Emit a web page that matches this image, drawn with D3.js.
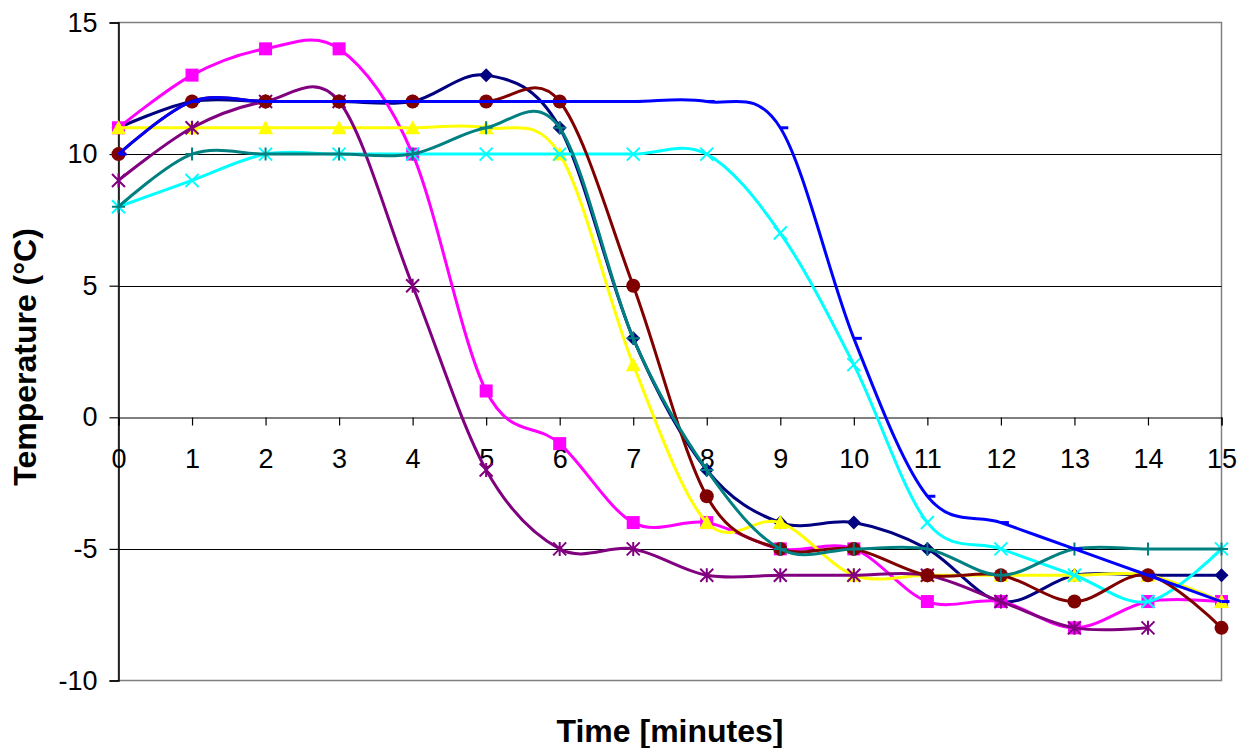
<!DOCTYPE html>
<html>
<head>
<meta charset="utf-8">
<script src="https://cdn.jsdelivr.net/npm/d3@7"></script>
<style>
  html, body { margin: 0; padding: 0; background: #fff; }
  svg { display: block; font-family: Arial, "Liberation Sans", sans-serif; }
</style>
</head>
<body>
<svg id="chart" width="1247" height="748"></svg>
<script>
// ---- data ----
const minutes = [0,1,2,3,4,5,6,7,8,9,10,11,12,13,14,15];
const yTicks = [-10,-5,0,5,10,15];
const seriesNavy    = [11,12,12,12,12,13,11,3,-2,-4,-4,-5,-7,-6,-6,-6];
const seriesMagenta = [11,13,14,14,10,1,-1,-4,-4,-5,-5,-7,-7,-8,-7,-7];
const seriesYellow  = [11,11,11,11,11,11,10,2,-4,-4,-6,-6,-6,-6,-6,-7];
const seriesCyan    = [8,9,10,10,10,10,10,10,10,7,2,-4,-5,-6,-7,-5];
const seriesPurple  = [9,11,12,12,5,-2,-5,-5,-6,-6,-6,-6,-7,-8,-8,null];
const seriesBrown   = [10,12,12,12,12,12,12,5,-3,-5,-5,-6,-6,-7,-6,-8];
const seriesTeal    = [8,10,10,10,10,11,11,3,-2,-5,-5,-5,-6,-5,-5,-5];
const seriesBlue    = [10,12,12,12,12,12,12,12,12,11,3,-3,-4,-5,-6,-7];
const xTitle = "Time [minutes]";
const yTitle = "Temperature (°C)";

const series = [
  {values: seriesNavy,    color: "#000080", marker: "diamond"},
  {values: seriesMagenta, color: "#FF00FF", marker: "square"},
  {values: seriesYellow,  color: "#FFFF00", marker: "triangle"},
  {values: seriesCyan,    color: "#00FFFF", marker: "x"},
  {values: seriesPurple,  color: "#800080", marker: "star"},
  {values: seriesBrown,   color: "#800000", marker: "circle"},
  {values: seriesTeal,    color: "#008080", marker: "plus"},
  {values: seriesBlue,    color: "#0000FF", marker: "dash"}
];

// ---- layout ----
const svg = d3.select("#chart");
const pLeft = 118.5, pRight = 1221.5, pTop = 22.5, pBottom = 680.5;
const x = d3.scaleLinear().domain([0, 15]).range([pLeft, pRight]);
const y = d3.scaleLinear().domain([-10, 15]).range([pBottom, pTop]);
const fmt = d => String(d); // plain hyphen-minus like the original

// plot border (gray)
svg.append("rect")
  .attr("x", pLeft).attr("y", pTop)
  .attr("width", pRight - pLeft).attr("height", pBottom - pTop)
  .attr("fill", "none").attr("stroke", "#808080").attr("stroke-width", 1.5);

// gridlines
svg.append("g").selectAll("line")
  .data(yTicks.filter(v => v !== -10 && v !== 15 && v !== 0))
  .join("line")
  .attr("x1", pLeft).attr("x2", pRight)
  .attr("y1", d => Math.round(y(d)) + 0.5).attr("y2", d => Math.round(y(d)) + 0.5)
  .attr("stroke", "#000").attr("stroke-width", 1);

// Y axis
const yAxis = d3.axisLeft(y).tickValues(yTicks).tickSize(9).tickPadding(12).tickFormat(fmt);
const gy = svg.append("g").attr("transform", `translate(${pLeft},0)`).call(yAxis);
gy.select(".domain").attr("stroke", "#000").attr("stroke-width", 1.5);
gy.selectAll(".tick line").attr("stroke", "#000").attr("stroke-width", 1.2);
gy.selectAll(".tick text").attr("font-size", 27).attr("fill", "#000")
  .attr("font-family", "Arial, 'Liberation Sans', sans-serif");

// X axis at zero
const xAxis = d3.axisBottom(x).tickValues(minutes).tickSize(8).tickPadding(23).tickFormat(fmt);
const gx = svg.append("g").attr("transform", `translate(0,${Math.round(y(0)) + 0.5})`).call(xAxis);
gx.select(".domain").attr("stroke", "#000").attr("stroke-width", 1.2);
gx.selectAll(".tick line").attr("stroke", "#000").attr("stroke-width", 1.2);
gx.selectAll(".tick text").attr("font-size", 27).attr("fill", "#000")
  .attr("font-family", "Arial, 'Liberation Sans', sans-serif");

// titles
svg.append("text")
  .attr("x", 670).attr("y", 742)
  .attr("text-anchor", "middle")
  .attr("font-size", 32).attr("font-weight", "bold")
  .text(xTitle);
svg.append("text")
  .attr("transform", `translate(36,357) rotate(-90)`)
  .attr("text-anchor", "middle")
  .attr("font-size", 32).attr("font-weight", "bold")
  .text(yTitle);

// ---- series ----
const line = d3.line()
  .defined(d => d.v !== null)
  .x(d => x(d.m)).y(d => y(d.v))
  .curve(d3.curveCardinal.tension(0));

function drawMarker(g, type, color, cx, cy) {
  const s = 7;
  if (type === "diamond") {
    g.append("path").attr("d", `M${cx},${cy - s}L${cx + s},${cy}L${cx},${cy + s}L${cx - s},${cy}Z`)
      .attr("fill", color);
  } else if (type === "square") {
    g.append("rect").attr("x", cx - 6.5).attr("y", cy - 6.5).attr("width", 13).attr("height", 13)
      .attr("fill", color);
  } else if (type === "triangle") {
    g.append("path").attr("d", `M${cx},${cy - 7.5}L${cx + 7.5},${cy + 6.5}L${cx - 7.5},${cy + 6.5}Z`)
      .attr("fill", color);
  } else if (type === "circle") {
    g.append("circle").attr("cx", cx).attr("cy", cy).attr("r", 7).attr("fill", color);
  } else if (type === "x") {
    g.append("path").attr("d", `M${cx - 6.5},${cy - 6.5}L${cx + 6.5},${cy + 6.5}M${cx - 6.5},${cy + 6.5}L${cx + 6.5},${cy - 6.5}`)
      .attr("stroke", color).attr("stroke-width", 2).attr("fill", "none");
  } else if (type === "star") {
    g.append("path").attr("d", `M${cx - 6.5},${cy - 6.5}L${cx + 6.5},${cy + 6.5}M${cx - 6.5},${cy + 6.5}L${cx + 6.5},${cy - 6.5}M${cx},${cy - 7}L${cx},${cy + 7}`)
      .attr("stroke", color).attr("stroke-width", 2).attr("fill", "none");
  } else if (type === "plus") {
    g.append("path").attr("d", `M${cx - 6.5},${cy}L${cx + 6.5},${cy}M${cx},${cy - 6.5}L${cx},${cy + 6.5}`)
      .attr("stroke", color).attr("stroke-width", 2).attr("fill", "none");
  } else if (type === "dash") {
    g.append("path").attr("d", `M${cx},${cy}L${cx + 8},${cy}`)
      .attr("stroke", color).attr("stroke-width", 3).attr("fill", "none");
  }
}

series.forEach(s => {
  const pts = minutes.map((m, i) => ({m, v: s.values[i]}));
  const g = svg.append("g");
  g.append("path")
    .datum(pts)
    .attr("d", line)
    .attr("fill", "none")
    .attr("stroke", s.color)
    .attr("stroke-width", 3)
    .attr("stroke-linejoin", "round");
  pts.filter(p => p.v !== null).forEach(p => drawMarker(g, s.marker, s.color, x(p.m), y(p.v)));
});
</script>
</body>
</html>
